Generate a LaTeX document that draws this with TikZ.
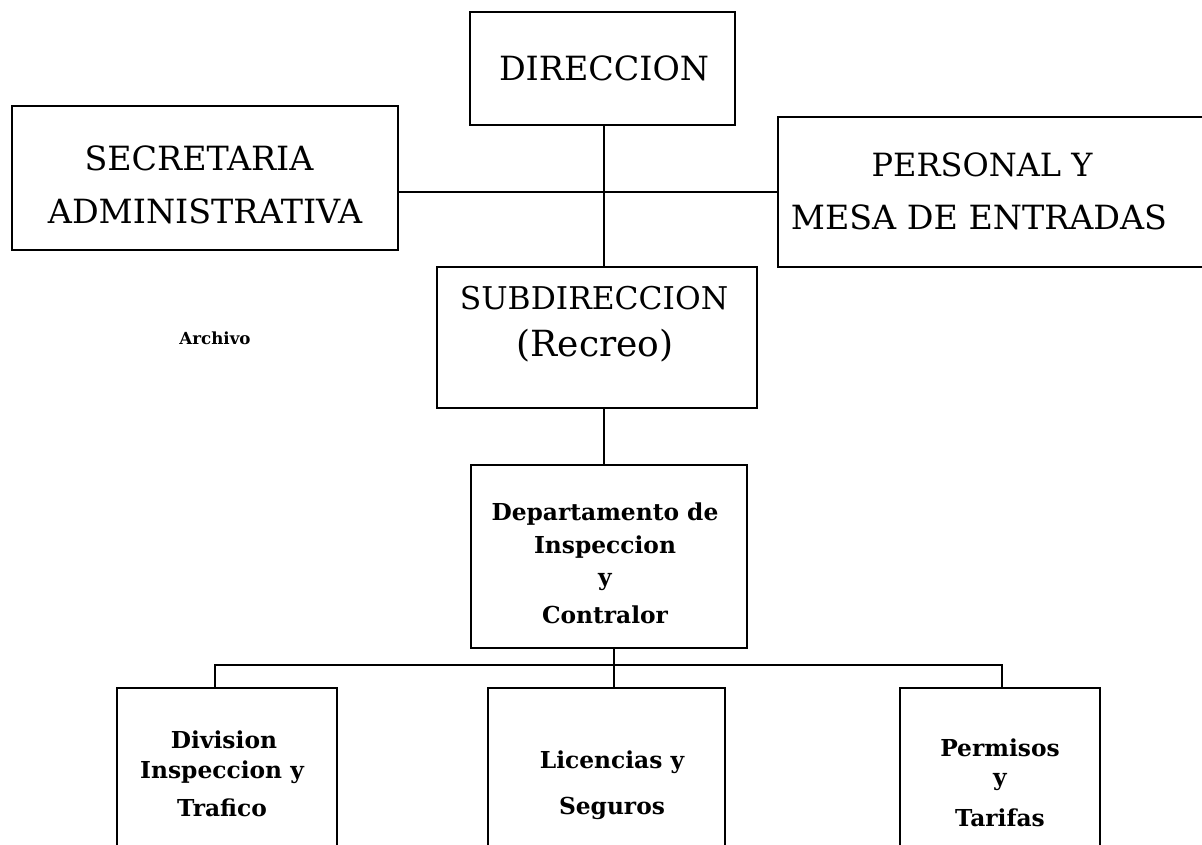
\documentclass[tikz,border=0pt]{standalone}
\usepackage{fontspec}
\setmainfont{DejaVu Serif}
\usetikzlibrary{fit}
\begin{document}
\begin{tikzpicture}[x=0.75pt,y=-0.75pt,
  box/.style={draw, line width=2.1pt, rectangle, inner sep=0pt},
  conn/.style={line width=2.1pt},
  big/.style={font=\fontsize{25}{30}\selectfont, inner sep=0pt},
  mid/.style={font=\fontsize{24}{28}\selectfont, inner sep=0pt},
  bigger/.style={font=\fontsize{27}{32}\selectfont, inner sep=0pt},
  small/.style={font=\fontsize{17.5}{20}\selectfont\bfseries, inner sep=0pt},
  tiny/.style={font=\fontsize{12.5}{14}\selectfont\bfseries, inner sep=0pt}]
\useasboundingbox[fill=white] (0,0) rectangle (1202,845);

% boxes
\node[box, fit={(470,12) (735,125)}] (DIR) {};
\node[box, fit={(12,106) (398,250)}] (SEC) {};
\node[box, fit={(778,117) (1206,267)}] (PER) {};
\node[box, fit={(437,267) (757,408)}] (SUB) {};
\node[box, fit={(471,465) (747,648)}] (DEP) {};
\node[box, fit={(117,688) (337,846)}] (DIV) {};
\node[box, fit={(488,688) (725,846)}] (LIC) {};
\node[box, fit={(900,688) (1100,846)}] (PRM) {};

% texts
\node[big] (DIRt) at (604,68) {DIRECCION};
\node[big] (SECt1) at (199,158) {SECRETARIA};
\node[big] (SECt2) at (205,211) {ADMINISTRATIVA};
\node[mid] (PERt1) at (982,165) {PERSONAL Y};
\node[big] (PERt2) at (979,217) {MESA DE ENTRADAS};
\node[font=\fontsize{23.5}{28}\selectfont, inner sep=0pt] (SUBt1) at (594,298) {SUBDIRECCION};
\node[bigger] (SUBt2) at (595,346) {(Recreo)};
\node[tiny] (ARC) at (215,338) {Archivo};
\node[small] (DEPt1) at (605,514) {Departamento de};
\node[small] (DEPt2) at (605,547) {Inspeccion};
\node[small] (DEPt3) at (605,582) {y};
\node[small] (DEPt4) at (605,615) {Contralor};
\node[small] (DIVt1) at (224,740) {Division};
\node[small] (DIVt2) at (222,772) {Inspeccion y};
\node[small] (DIVt3) at (222,808) {Trafico};
\node[small] (LICt1) at (612,762) {Licencias y};
\node[small] (LICt2) at (612,808) {Seguros};
\node[small] (PRMt1) at (1000,748) {Permisos};
\node[small] (PRMt2) at (1000,782) {y};
\node[small] (PRMt3) at (1000,818) {Tarifas};

% connectors
\coordinate (j) at (604,192);
\coordinate (bus) at (614,665);
\coordinate (bl) at (215,665);
\coordinate (br) at (1002,665);
\draw[conn] (DIR.south -| j) -- (SUB.north -| j);
\draw[conn] (SEC.east |- j) -- (PER.west |- j);
\draw[conn] (SUB.south -| j) -- (DEP.north -| j);
\draw[conn] (DEP.south -| bus) -- (LIC.north -| bus);
\draw[conn] (DIV.north -| bl) -- (bl) -- (br) -- (PRM.north -| br);
\end{tikzpicture}
\end{document}
